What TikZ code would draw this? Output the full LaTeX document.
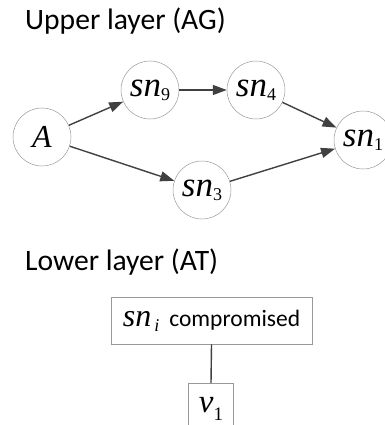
\documentclass[tikz,border=0pt]{standalone}
\usepackage{fontspec}
\usepackage{graphicx}
\setmainfont{Carlito}
\newfontfamily\tnr{Liberation Serif}
\usetikzlibrary{arrows.meta}
\newcommand\mlab[2]{{\tnr\fontsize{35}{35}\selectfont\itshape #1}\raisebox{-4pt}{\tnr\fontsize{18}{18}\selectfont #2}}
\tikzset{
  titletext/.style={anchor=west, inner sep=0pt, font=\fontsize{29.6}{30}\selectfont, text=black},
  gnode/.style={circle, draw=black!40, line width=0.5pt, minimum size=58pt, inner sep=0pt},
  garrow/.style={draw=black!75, line width=1.4pt, -{Triangle[length=14pt,width=10pt]}},
  boxnode/.style={draw=black!40, line width=0.7pt, inner sep=0pt},
  tline/.style={draw=black!75, line width=1.4pt}
}
\begin{document}
\begin{tikzpicture}[x=1pt,y=-1pt]
\useasboundingbox (0,0) rectangle (384,425);
\node[titletext] (up) at (25,21) {Upper layer (AG)};
\node[gnode] (A) at (42,137) {{\tnr\fontsize{32}{32}\selectfont\itshape A}};
\node[gnode] (s9) at (150,90) {\mlab{sn}{9}};
\node[gnode] (s4) at (256,90) {\mlab{sn}{4}};
\node[gnode] (s1) at (363,140) {\mlab{sn}{1}};
\node[gnode] (s3) at (202,190) {\mlab{sn}{3}};
\draw[garrow] (A) -- (s9);
\draw[garrow] (s9) -- (s4);
\draw[garrow] (s4) -- (s1);
\draw[garrow] (A) -- (s3);
\draw[garrow] (s3) -- (s1);
\node[titletext] (low) at (25,262) {Lower layer (AT)};
\node[boxnode, minimum width=201pt, minimum height=47pt] (comp) at (211.5,320.5) {{\tnr\fontsize{32}{32}\selectfont\itshape sn}\raisebox{-5pt}{\tnr\fontsize{18}{18}\selectfont\itshape\,i}\hspace{10pt}{\fontsize{23.5}{24}\selectfont compromised}};
\node[boxnode, minimum width=45pt, anchor=north, text height=29pt, text depth=20pt] (v1) at (211,383) {{\tnr\fontsize{33}{33}\selectfont\itshape v}\raisebox{-8pt}{\tnr\fontsize{19}{19}\selectfont 1}};
\draw[tline] (comp.south) -- (v1.north);
\end{tikzpicture}
\end{document}
